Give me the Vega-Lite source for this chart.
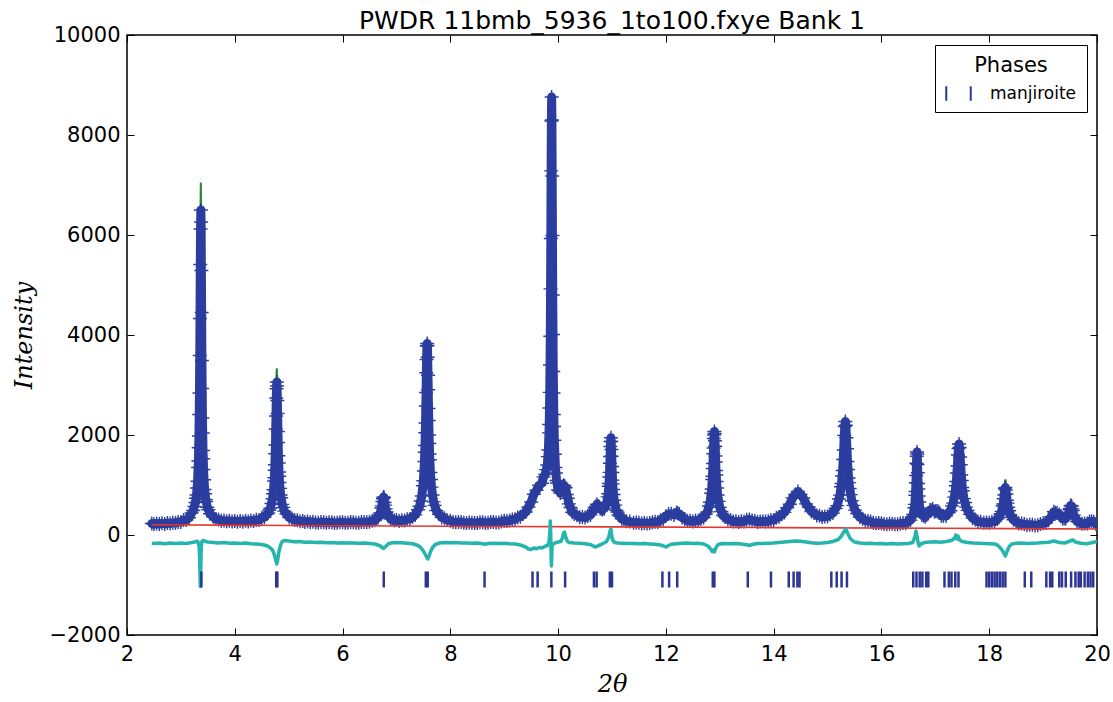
{
"$schema": "https://vega.github.io/schema/vega-lite/v6.json",
"width": 970, "height": 600,
"autosize": "none",
"padding": {"left": 127, "top": 35, "right": 16, "bottom": 67},
"background": "white",
"title": {"text": "PWDR 11bmb_5936_1to100.fxye Bank 1", "fontSize": 25, "font": "DejaVu Sans", "fontWeight": "normal", "color": "black", "anchor": "middle", "offset": 7, "dy": 17},
"config": {
 "font": "DejaVu Sans",
 "view": {"stroke": "black", "strokeWidth": 1.5},
 "axis": {"domain": false, "grid": false, "tickColor": "black", "tickWidth": 1, "labelColor": "black", "labelFont": "DejaVu Sans", "labelFontSize": 21, "titleColor": "black", "labelFlush": false, "labelOverlap": false}
},
"datasets": {
"obs": [
{"x":2.46,"o":230,"c":223},{"x":2.5,"o":215,"c":224},{"x":2.55,"o":232,"c":224},{"x":2.6,"o":218,"c":225},{"x":2.65,"o":235,"c":227},{"x":2.7,"o":222,"c":229},{"x":2.75,"o":241,"c":232},{"x":2.8,"o":228,"c":236},{"x":2.85,"o":247,"c":241},{"x":2.9,"o":240,"c":246},{"x":2.95,"o":262,"c":254},{"x":3.0,"o":262,"c":266},{"x":3.05,"o":298,"c":281},{"x":3.1,"o":300,"c":300},{"x":3.15,"o":345,"c":338},
{"x":3.2,"o":440,"c":439},{"x":3.23,"o":490,"c":507},{"x":3.25,"o":570,"c":576},{"x":3.27,"o":650,"c":677},{"x":3.28,"o":735,"c":748},{"x":3.29,"o":800,"c":840},{"x":3.3,"o":940,"c":965},{"x":3.31,"o":1075,"c":1140},{"x":3.32,"o":1350,"c":1402},{"x":3.325,"o":1480,"c":1583},{"x":3.33,"o":1745,"c":1820},{"x":3.335,"o":1980,"c":2127},{"x":3.34,"o":2410,"c":2532},{"x":3.345,"o":2840,"c":3073},{"x":3.35,"o":3590,"c":3792},{"x":3.355,"o":4330,"c":4705},{"x":3.36,"o":5410,"c":5748},{"x":3.365,"o":6120,"c":6667},{"x":3.37,"o":6500,"c":7050},{"x":3.375,"o":6260,"c":6667},{"x":3.38,"o":5290,"c":5748},{"x":3.385,"o":4450,"c":4705},{"x":3.39,"o":3490,"c":3792},{"x":3.395,"o":2930,"c":3073},{"x":3.4,"o":2340,"c":2532},{"x":3.405,"o":2040,"c":2127},{"x":3.41,"o":1690,"c":1820},{"x":3.415,"o":1525,"c":1583},{"x":3.42,"o":1310,"c":1402},{"x":3.43,"o":1105,"c":1140},{"x":3.44,"o":910,"c":965},{"x":3.45,"o":825,"c":840},{"x":3.46,"o":710,"c":748},{"x":3.47,"o":670,"c":677},{"x":3.49,"o":555,"c":576},{"x":3.51,"o":505,"c":507},{"x":3.54,"o":425,"c":439},
{"x":3.6,"o":365,"c":358},{"x":3.65,"o":318,"c":325},{"x":3.7,"o":312,"c":306},{"x":3.75,"o":285,"c":292},{"x":3.8,"o":290,"c":283},{"x":3.85,"o":275,"c":283},{"x":3.9,"o":286,"c":279},{"x":3.95,"o":268,"c":275},{"x":4.0,"o":281,"c":274},{"x":4.05,"o":265,"c":272},{"x":4.1,"o":278,"c":271},{"x":4.15,"o":266,"c":272},{"x":4.2,"o":284,"c":275},{"x":4.25,"o":272,"c":280},{"x":4.3,"o":290,"c":282},{"x":4.35,"o":280,"c":288},{"x":4.4,"o":305,"c":297},{"x":4.45,"o":300,"c":311},{"x":4.5,"o":338,"c":330},{"x":4.55,"o":355,"c":363},{"x":4.6,"o":420,"c":413},
{"x":4.62,"o":440,"c":447},{"x":4.64,"o":495,"c":495},{"x":4.66,"o":535,"c":556},{"x":4.68,"o":630,"c":638},{"x":4.7,"o":725,"c":760},{"x":4.71,"o":826,"c":847},{"x":4.72,"o":905,"c":962},{"x":4.73,"o":1080,"c":1122},{"x":4.735,"o":1145,"c":1228},{"x":4.74,"o":1295,"c":1360},{"x":4.745,"o":1405,"c":1521},{"x":4.75,"o":1625,"c":1723},{"x":4.755,"o":1800,"c":1972},{"x":4.76,"o":2120,"c":2273},{"x":4.765,"o":2380,"c":2617},{"x":4.77,"o":2740,"c":2960},{"x":4.775,"o":2925,"c":3230},{"x":4.78,"o":3060,"c":3334},{"x":4.785,"o":2980,"c":3230},{"x":4.79,"o":2690,"c":2960},{"x":4.795,"o":2430,"c":2617},{"x":4.8,"o":2070,"c":2273},{"x":4.805,"o":1850,"c":1972},{"x":4.81,"o":1585,"c":1723},{"x":4.815,"o":1440,"c":1521},{"x":4.82,"o":1260,"c":1360},{"x":4.825,"o":1175,"c":1228},{"x":4.83,"o":1050,"c":1122},{"x":4.84,"o":932,"c":962},{"x":4.85,"o":800,"c":847},{"x":4.86,"o":745,"c":760},{"x":4.88,"o":612,"c":638},{"x":4.9,"o":552,"c":556},{"x":4.92,"o":478,"c":495},{"x":4.96,"o":420,"c":413},{"x":5.01,"o":350,"c":358},{"x":5.06,"o":332,"c":325},{"x":5.11,"o":298,"c":305},{"x":5.16,"o":296,"c":291},{"x":5.21,"o":276,"c":281},{"x":5.26,"o":280,"c":274},
{"x":5.3,"o":262,"c":270},{"x":5.35,"o":272,"c":264},{"x":5.4,"o":255,"c":261},{"x":5.45,"o":266,"c":258},{"x":5.5,"o":250,"c":256},{"x":5.55,"o":247,"c":254},{"x":5.6,"o":260,"c":252},{"x":5.65,"o":255,"c":251},{"x":5.7,"o":244,"c":250},{"x":5.75,"o":257,"c":250},{"x":5.8,"o":256,"c":250},{"x":5.85,"o":242,"c":249},{"x":5.9,"o":243,"c":249},{"x":5.95,"o":256,"c":249},{"x":6.0,"o":255,"c":249},{"x":6.05,"o":244,"c":249},{"x":6.1,"o":246,"c":249},{"x":6.15,"o":258,"c":249},{"x":6.2,"o":257,"c":250},{"x":6.25,"o":245,"c":251},{"x":6.3,"o":247,"c":253},{"x":6.35,"o":259,"c":253},{"x":6.4,"o":262,"c":254},{"x":6.45,"o":256,"c":261},{"x":6.5,"o":264,"c":270},{"x":6.55,"o":287,"c":280},{"x":6.6,"o":295,"c":301},
{"x":6.63,"o":330,"c":322},{"x":6.66,"o":350,"c":358},{"x":6.68,"o":402,"c":394},{"x":6.7,"o":440,"c":448},{"x":6.72,"o":540,"c":531},{"x":6.73,"o":582,"c":590},{"x":6.74,"o":670,"c":662},{"x":6.75,"o":725,"c":735},{"x":6.76,"o":760,"c":768},{"x":6.77,"o":748,"c":735},{"x":6.78,"o":650,"c":662},{"x":6.79,"o":598,"c":590},{"x":6.8,"o":522,"c":531},{"x":6.82,"o":462,"c":455},{"x":6.84,"o":392,"c":400},{"x":6.86,"o":372,"c":366},{"x":6.89,"o":325,"c":332},{"x":6.92,"o":320,"c":313},{"x":6.96,"o":290,"c":297},{"x":7.0,"o":300,"c":293},{"x":7.05,"o":282,"c":288},{"x":7.1,"o":297,"c":290},{"x":7.15,"o":290,"c":297},{"x":7.2,"o":316,"c":309},{"x":7.25,"o":320,"c":327},{"x":7.3,"o":365,"c":358},{"x":7.35,"o":402,"c":409},{"x":7.4,"o":505,"c":498},
{"x":7.43,"o":576,"c":584},{"x":7.45,"o":680,"c":670},{"x":7.47,"o":780,"c":791},{"x":7.49,"o":985,"c":970},{"x":7.5,"o":1085,"c":1097},{"x":7.51,"o":1280,"c":1264},{"x":7.52,"o":1470,"c":1490},{"x":7.525,"o":1655,"c":1636},{"x":7.53,"o":1790,"c":1812},{"x":7.535,"o":2045,"c":2021},{"x":7.54,"o":2240,"c":2266},{"x":7.545,"o":2580,"c":2554},{"x":7.55,"o":2850,"c":2880},{"x":7.555,"o":3245,"c":3219},{"x":7.56,"o":3510,"c":3534},{"x":7.565,"o":3780,"c":3790},{"x":7.57,"o":3830,"c":3900},{"x":7.575,"o":3790,"c":3790},{"x":7.58,"o":3555,"c":3534},{"x":7.585,"o":3195,"c":3219},{"x":7.59,"o":2905,"c":2880},{"x":7.595,"o":2530,"c":2554},{"x":7.6,"o":2290,"c":2266},{"x":7.605,"o":2000,"c":2021},{"x":7.61,"o":1830,"c":1812},{"x":7.615,"o":1620,"c":1636},{"x":7.62,"o":1505,"c":1490},{"x":7.63,"o":1250,"c":1264},{"x":7.64,"o":1110,"c":1097},{"x":7.65,"o":958,"c":970},{"x":7.67,"o":800,"c":791},{"x":7.69,"o":662,"c":670},{"x":7.71,"o":592,"c":584},{"x":7.74,"o":490,"c":498},{"x":7.79,"o":415,"c":409},{"x":7.84,"o":352,"c":358},{"x":7.89,"o":334,"c":327},{"x":7.94,"o":302,"c":309},
{"x":8.0,"o":286,"c":279},{"x":8.05,"o":262,"c":268},{"x":8.1,"o":255,"c":262},{"x":8.15,"o":259,"c":256},{"x":8.2,"o":258,"c":251},{"x":8.25,"o":243,"c":247},{"x":8.3,"o":238,"c":244},{"x":8.35,"o":248,"c":243},{"x":8.4,"o":245,"c":244},{"x":8.45,"o":240,"c":246},{"x":8.5,"o":242,"c":249},{"x":8.55,"o":254,"c":248},{"x":8.6,"o":255,"c":247},{"x":8.65,"o":241,"c":248},{"x":8.7,"o":244,"c":250},{"x":8.75,"o":258,"c":251},{"x":8.8,"o":260,"c":253},{"x":8.85,"o":249,"c":255},{"x":8.9,"o":252,"c":258},{"x":8.95,"o":271,"c":263},
{"x":9.0,"o":285,"c":278},{"x":9.05,"o":281,"c":286},{"x":9.1,"o":288,"c":294},{"x":9.15,"o":312,"c":305},{"x":9.2,"o":314,"c":321},{"x":9.25,"o":352,"c":343},{"x":9.3,"o":365,"c":372},{"x":9.35,"o":420,"c":410},{"x":9.4,"o":460,"c":469},{"x":9.45,"o":560,"c":549},{"x":9.5,"o":660,"c":668},{"x":9.55,"o":814,"c":801},{"x":9.6,"o":896,"c":912},{"x":9.65,"o":995,"c":979},{"x":9.7,"o":1035,"c":1054},{"x":9.73,"o":1163,"c":1147},{"x":9.76,"o":1213,"c":1230},{"x":9.78,"o":1307,"c":1289},{"x":9.8,"o":1400,"c":1420},{"x":9.81,"o":1568,"c":1546},{"x":9.82,"o":1700,"c":1720},{"x":9.83,"o":2043,"c":2020},{"x":9.835,"o":2210,"c":2236},{"x":9.84,"o":2541,"c":2514},{"x":9.845,"o":2852,"c":2879},{"x":9.85,"o":3399,"c":3365},{"x":9.855,"o":3976,"c":4015},{"x":9.86,"o":4923,"c":4879},{"x":9.865,"o":5930,"c":5978},{"x":9.87,"o":7282,"c":7233},{"x":9.875,"o":8280,"c":8340},{"x":9.88,"o":8760,"c":8780},{"x":9.885,"o":8300,"c":8331},{"x":9.89,"o":7180,"c":7217},{"x":9.895,"o":5990,"c":5954},{"x":9.9,"o":4800,"c":4843},{"x":9.905,"o":4010,"c":3971},{"x":9.91,"o":3270,"c":3307},{"x":9.915,"o":2840,"c":2811},{"x":9.92,"o":2410,"c":2436},{"x":9.925,"o":2170,"c":2146},{"x":9.93,"o":1895,"c":1918},{"x":9.94,"o":1615,"c":1593},{"x":9.95,"o":1350,"c":1370},{"x":9.96,"o":1240,"c":1220},{"x":9.97,"o":1090,"c":1106},{"x":9.98,"o":1040,"c":1024},
{"x":10.0,"o":900,"c":918},{"x":10.02,"o":885,"c":869},{"x":10.04,"o":840,"c":856},{"x":10.06,"o":895,"c":877},{"x":10.08,"o":905,"c":922},{"x":10.1,"o":995,"c":979},{"x":10.12,"o":980,"c":999},{"x":10.14,"o":945,"c":930},{"x":10.16,"o":810,"c":823},{"x":10.18,"o":735,"c":720},{"x":10.2,"o":622,"c":636},{"x":10.23,"o":550,"c":538},{"x":10.26,"o":455,"c":467},{"x":10.3,"o":422,"c":429},{"x":10.35,"o":394,"c":387},{"x":10.4,"o":356,"c":364},{"x":10.45,"o":362,"c":355},{"x":10.5,"o":349,"c":356},{"x":10.55,"o":380,"c":372},{"x":10.6,"o":402,"c":410},{"x":10.63,"o":455,"c":447},{"x":10.66,"o":488,"c":496},{"x":10.68,"o":545,"c":536},{"x":10.7,"o":572,"c":580},{"x":10.72,"o":615,"c":607},{"x":10.74,"o":582,"c":591},{"x":10.76,"o":570,"c":561},{"x":10.78,"o":530,"c":537},{"x":10.8,"o":528,"c":521},{"x":10.82,"o":508,"c":515},{"x":10.84,"o":530,"c":520},{"x":10.86,"o":532,"c":540},{"x":10.88,"o":590,"c":576},{"x":10.9,"o":632,"c":640},
{"x":10.92,"o":762,"c":750},{"x":10.93,"o":825,"c":837},{"x":10.94,"o":975,"c":961},{"x":10.945,"o":1030,"c":1042},{"x":10.95,"o":1160,"c":1145},{"x":10.955,"o":1252,"c":1267},{"x":10.96,"o":1435,"c":1417},{"x":10.965,"o":1570,"c":1585},{"x":10.97,"o":1770,"c":1753},{"x":10.975,"o":1870,"c":1884},{"x":10.98,"o":1945,"c":1932},{"x":10.985,"o":1870,"c":1857},{"x":10.99,"o":1710,"c":1725},{"x":10.995,"o":1575,"c":1556},{"x":11.0,"o":1370,"c":1387},{"x":11.005,"o":1250,"c":1235},{"x":11.01,"o":1098,"c":1112},{"x":11.015,"o":1022,"c":1008},{"x":11.02,"o":910,"c":925},{"x":11.03,"o":810,"c":798},{"x":11.04,"o":695,"c":707},{"x":11.06,"o":598,"c":586},{"x":11.08,"o":495,"c":506},{"x":11.1,"o":460,"c":450},{"x":11.12,"o":402,"c":410},{"x":11.14,"o":380,"c":372},{"x":11.18,"o":326,"c":333},{"x":11.22,"o":310,"c":304},{"x":11.27,"o":275,"c":281},{"x":11.33,"o":268,"c":262},{"x":11.4,"o":245,"c":251},{"x":11.45,"o":249,"c":244},{"x":11.5,"o":244,"c":238},{"x":11.55,"o":230,"c":236},{"x":11.6,"o":242,"c":235},{"x":11.65,"o":232,"c":239},{"x":11.7,"o":238,"c":243},{"x":11.75,"o":256,"c":249},{"x":11.8,"o":264,"c":257},{"x":11.85,"o":262,"c":269},{"x":11.9,"o":297,"c":290},{"x":11.95,"o":315,"c":322},
{"x":12.0,"o":381,"c":373},{"x":12.05,"o":418,"c":427},{"x":12.1,"o":425,"c":415},{"x":12.15,"o":402,"c":412},{"x":12.2,"o":450,"c":440},{"x":12.22,"o":436,"c":444},{"x":12.25,"o":420,"c":413},{"x":12.3,"o":348,"c":354},{"x":12.35,"o":320,"c":313},{"x":12.4,"o":282,"c":288},{"x":12.45,"o":287,"c":280},{"x":12.5,"o":272,"c":278},{"x":12.55,"o":290,"c":283},{"x":12.6,"o":285,"c":292},{"x":12.65,"o":322,"c":314},{"x":12.7,"o":345,"c":353},{"x":12.74,"o":415,"c":406},{"x":12.77,"o":462,"c":470},{"x":12.8,"o":580,"c":569},{"x":12.82,"o":655,"c":668},{"x":12.84,"o":835,"c":821},{"x":12.85,"o":920,"c":935},{"x":12.86,"o":1110,"c":1093},{"x":12.865,"o":1175,"c":1193},{"x":12.87,"o":1330,"c":1311},{"x":12.875,"o":1430,"c":1449},{"x":12.88,"o":1625,"c":1603},{"x":12.885,"o":1740,"c":1763},{"x":12.89,"o":1930,"c":1911},{"x":12.895,"o":2000,"c":2018},{"x":12.9,"o":2070,"c":2059},{"x":12.905,"o":2030,"c":2010},{"x":12.91,"o":1885,"c":1903},{"x":12.915,"o":1775,"c":1755},{"x":12.92,"o":1580,"c":1595},{"x":12.925,"o":1460,"c":1441},{"x":12.93,"o":1290,"c":1303},{"x":12.935,"o":1200,"c":1185},{"x":12.94,"o":1070,"c":1085},{"x":12.95,"o":940,"c":927},{"x":12.96,"o":800,"c":813},{"x":12.98,"o":672,"c":660},{"x":13.0,"o":553,"c":562},{"x":13.03,"o":470,"c":462},{"x":13.06,"o":390,"c":398},
{"x":13.1,"o":362,"c":355},{"x":13.15,"o":308,"c":315},{"x":13.2,"o":299,"c":292},{"x":13.25,"o":270,"c":276},{"x":13.3,"o":274,"c":267},{"x":13.35,"o":259,"c":265},{"x":13.4,"o":273,"c":266},{"x":13.45,"o":268,"c":274},{"x":13.5,"o":303,"c":296},{"x":13.55,"o":310,"c":316},{"x":13.6,"o":290,"c":296},{"x":13.65,"o":282,"c":275},{"x":13.7,"o":262,"c":268},{"x":13.75,"o":272,"c":266},{"x":13.8,"o":276,"c":269},{"x":13.85,"o":268,"c":275},{"x":13.9,"o":275,"c":282},{"x":13.95,"o":300,"c":292},
{"x":14.0,"o":302,"c":309},{"x":14.05,"o":345,"c":338},{"x":14.1,"o":360,"c":367},{"x":14.15,"o":415,"c":407},{"x":14.2,"o":452,"c":461},{"x":14.25,"o":545,"c":534},{"x":14.3,"o":615,"c":625},{"x":14.35,"o":742,"c":730},{"x":14.4,"o":810,"c":823},{"x":14.45,"o":870,"c":860},{"x":14.5,"o":812,"c":822},{"x":14.55,"o":740,"c":731},{"x":14.6,"o":622,"c":635},{"x":14.65,"o":558,"c":547},{"x":14.7,"o":470,"c":479},{"x":14.75,"o":440,"c":431},{"x":14.8,"o":390,"c":397},{"x":14.85,"o":383,"c":376},{"x":14.9,"o":358,"c":366},{"x":14.95,"o":372,"c":365},
{"x":15.0,"o":370,"c":377},{"x":15.05,"o":410,"c":401},{"x":15.1,"o":438,"c":445},{"x":15.15,"o":530,"c":522},{"x":15.18,"o":588,"c":597},{"x":15.21,"o":720,"c":706},{"x":15.23,"o":798,"c":809},{"x":15.25,"o":965,"c":951},{"x":15.26,"o":1030,"c":1045},{"x":15.27,"o":1180,"c":1162},{"x":15.28,"o":1290,"c":1308},{"x":15.29,"o":1510,"c":1493},{"x":15.3,"o":1700,"c":1721},{"x":15.31,"o":1990,"c":1970},{"x":15.32,"o":2170,"c":2188},{"x":15.33,"o":2270,"c":2283},{"x":15.34,"o":2195,"c":2178},{"x":15.35,"o":1945,"c":1960},{"x":15.36,"o":1725,"c":1711},{"x":15.37,"o":1470,"c":1483},{"x":15.38,"o":1310,"c":1298},{"x":15.39,"o":1140,"c":1152},{"x":15.4,"o":1048,"c":1035},{"x":15.41,"o":930,"c":941},{"x":15.43,"o":808,"c":797},{"x":15.45,"o":685,"c":694},{"x":15.48,"o":592,"c":585},{"x":15.51,"o":498,"c":505},{"x":15.55,"o":428,"c":420},{"x":15.6,"o":355,"c":361},{"x":15.65,"o":327,"c":320},{"x":15.7,"o":287,"c":293},{"x":15.75,"o":280,"c":274},{"x":15.8,"o":268,"c":261},{"x":15.85,"o":244,"c":250},{"x":15.9,"o":235,"c":241},{"x":15.95,"o":242,"c":235},
{"x":16.0,"o":237,"c":230},{"x":16.05,"o":220,"c":226},{"x":16.1,"o":216,"c":222},{"x":16.15,"o":226,"c":220},{"x":16.2,"o":225,"c":219},{"x":16.25,"o":214,"c":220},{"x":16.3,"o":214,"c":221},{"x":16.35,"o":232,"c":225},{"x":16.4,"o":238,"c":230},{"x":16.45,"o":235,"c":242},{"x":16.5,"o":273,"c":266},{"x":16.54,"o":298,"c":305},{"x":16.57,"o":366,"c":358},{"x":16.59,"o":410,"c":420},{"x":16.61,"o":545,"c":531},{"x":16.62,"o":612,"c":626},{"x":16.63,"o":795,"c":778},{"x":16.635,"o":870,"c":887},{"x":16.64,"o":1045,"c":1029},{"x":16.645,"o":1190,"c":1211},{"x":16.65,"o":1435,"c":1416},{"x":16.655,"o":1575,"c":1594},{"x":16.66,"o":1660,"c":1669},{"x":16.665,"o":1620,"c":1608},{"x":16.67,"o":1410,"c":1430},{"x":16.675,"o":1245,"c":1226},{"x":16.68,"o":1030,"c":1045},{"x":16.685,"o":920,"c":904},{"x":16.69,"o":780,"c":796},{"x":16.7,"o":660,"c":646},{"x":16.71,"o":540,"c":553},{"x":16.73,"o":455,"c":446},{"x":16.75,"o":402,"c":410},{"x":16.78,"o":383,"c":375},{"x":16.81,"o":364,"c":371},{"x":16.84,"o":400,"c":393},{"x":16.87,"o":430,"c":437},{"x":16.9,"o":498,"c":490},{"x":16.92,"o":495,"c":502},{"x":16.95,"o":518,"c":509},{"x":16.98,"o":468,"c":475},
{"x":17.0,"o":474,"c":467},{"x":17.03,"o":482,"c":475},{"x":17.05,"o":470,"c":477},{"x":17.08,"o":444,"c":436},{"x":17.11,"o":384,"c":391},{"x":17.15,"o":380,"c":373},{"x":17.2,"o":382,"c":389},{"x":17.25,"o":450,"c":442},{"x":17.28,"o":485,"c":492},{"x":17.31,"o":582,"c":573},{"x":17.33,"o":638,"c":647},{"x":17.35,"o":758,"c":745},{"x":17.37,"o":870,"c":882},{"x":17.38,"o":985,"c":971},{"x":17.39,"o":1070,"c":1083},{"x":17.4,"o":1240,"c":1224},{"x":17.41,"o":1380,"c":1395},{"x":17.42,"o":1600,"c":1582},{"x":17.43,"o":1730,"c":1744},{"x":17.44,"o":1820,"c":1812},{"x":17.45,"o":1750,"c":1736},{"x":17.46,"o":1560,"c":1574},{"x":17.47,"o":1405,"c":1387},{"x":17.48,"o":1200,"c":1216},{"x":17.49,"o":1090,"c":1075},{"x":17.5,"o":950,"c":963},{"x":17.51,"o":885,"c":874},{"x":17.53,"o":728,"c":737},{"x":17.55,"o":650,"c":639},{"x":17.57,"o":558,"c":565},{"x":17.6,"o":492,"c":484},{"x":17.64,"o":413,"c":406},{"x":17.69,"o":337,"c":344},{"x":17.74,"o":310,"c":304},{"x":17.79,"o":268,"c":274},{"x":17.84,"o":264,"c":258},{"x":17.9,"o":245,"c":251},{"x":17.95,"o":251,"c":244},
{"x":18.0,"o":243,"c":249},{"x":18.05,"o":263,"c":256},{"x":18.1,"o":270,"c":276},{"x":18.15,"o":322,"c":315},{"x":18.18,"o":348,"c":364},{"x":18.21,"o":425,"c":433},{"x":18.23,"o":472,"c":503},{"x":18.25,"o":580,"c":609},{"x":18.26,"o":620,"c":685},{"x":18.27,"o":725,"c":787},{"x":18.28,"o":800,"c":916},{"x":18.29,"o":925,"c":1049},{"x":18.3,"o":950,"c":1112},{"x":18.31,"o":898,"c":1045},{"x":18.32,"o":820,"c":911},{"x":18.33,"o":695,"c":782},{"x":18.34,"o":638,"c":680},{"x":18.35,"o":555,"c":604},{"x":18.37,"o":484,"c":498},{"x":18.39,"o":405,"c":428},{"x":18.42,"o":357,"c":359},{"x":18.45,"o":304,"c":310},{"x":18.5,"o":268,"c":261},{"x":18.55,"o":230,"c":236},{"x":18.6,"o":229,"c":222},{"x":18.65,"o":219,"c":214},{"x":18.7,"o":200,"c":206},{"x":18.75,"o":207,"c":201},{"x":18.8,"o":204,"c":197},{"x":18.85,"o":192,"c":198},{"x":18.9,"o":195,"c":201},{"x":18.95,"o":218,"c":211},
{"x":19.0,"o":233,"c":226},{"x":19.05,"o":240,"c":246},{"x":19.1,"o":296,"c":289},{"x":19.15,"o":365,"c":372},{"x":19.2,"o":465,"c":457},{"x":19.23,"o":444,"c":451},{"x":19.26,"o":438,"c":431},{"x":19.3,"o":410,"c":418},{"x":19.33,"o":382,"c":375},{"x":19.36,"o":330,"c":336},{"x":19.39,"o":328,"c":322},{"x":19.42,"o":328,"c":335},{"x":19.45,"o":385,"c":377},{"x":19.47,"o":418,"c":425},{"x":19.49,"o":505,"c":495},{"x":19.5,"o":530,"c":538},{"x":19.51,"o":590,"c":578},{"x":19.52,"o":585,"c":594},{"x":19.53,"o":580,"c":574},{"x":19.54,"o":522,"c":530},{"x":19.55,"o":490,"c":482},{"x":19.57,"o":398,"c":405},{"x":19.6,"o":335,"c":327},{"x":19.63,"o":270,"c":276},{"x":19.67,"o":256,"c":250},{"x":19.72,"o":224,"c":230},{"x":19.77,"o":230,"c":222},{"x":19.82,"o":231,"c":238},{"x":19.86,"o":272,"c":264},{"x":19.9,"o":275,"c":281},{"x":19.94,"o":266,"c":259},{"x":19.98,"o":222,"c":228},{"x":20.0,"o":220,"c":216}
],
"diff": [
{"x":2.46,"d":-165},{"x":2.5,"d":-172},{"x":2.6,"d":-160},{"x":2.7,"d":-175},{"x":2.8,"d":-162},{"x":2.9,"d":-170},{"x":3.0,"d":-158},{"x":3.1,"d":-168},{"x":3.2,"d":-150},{"x":3.25,"d":-140},{"x":3.3,"d":-125},{"x":3.32,"d":-140},{"x":3.34,"d":-250},{"x":3.35,"d":-520},{"x":3.355,"d":-820},{"x":3.36,"d":-1030},{"x":3.365,"d":-900},{"x":3.37,"d":-620},{"x":3.375,"d":-380},{"x":3.38,"d":-220},{"x":3.39,"d":-130},{"x":3.41,"d":-110},{"x":3.45,"d":-125},{"x":3.5,"d":-140},{"x":3.6,"d":-150},{"x":3.7,"d":-158},{"x":3.8,"d":-150},{"x":3.9,"d":-165},{"x":4.0,"d":-158},{"x":4.1,"d":-170},{"x":4.2,"d":-162},{"x":4.3,"d":-175},{"x":4.4,"d":-180},{"x":4.5,"d":-190},{"x":4.6,"d":-215},{"x":4.65,"d":-250},{"x":4.7,"d":-300},{"x":4.73,"d":-380},{"x":4.76,"d":-500},{"x":4.78,"d":-580},{"x":4.8,"d":-470},{"x":4.82,"d":-330},{"x":4.85,"d":-200},{"x":4.88,"d":-130},{"x":4.92,"d":-110},{"x":5.0,"d":-120},{"x":5.1,"d":-135},{"x":5.2,"d":-130},{"x":5.3,"d":-145},{"x":5.4,"d":-140},{"x":5.5,"d":-150},{"x":5.6,"d":-145},{"x":5.7,"d":-155},{"x":5.8,"d":-150},{"x":5.9,"d":-160},{"x":6.0,"d":-155},{"x":6.1,"d":-162},{"x":6.2,"d":-158},{"x":6.3,"d":-165},{"x":6.4,"d":-160},{"x":6.5,"d":-170},{"x":6.6,"d":-180},{"x":6.7,"d":-220},{"x":6.76,"d":-270},{"x":6.8,"d":-230},{"x":6.85,"d":-175},{"x":6.9,"d":-160},{"x":7.0,"d":-150},{"x":7.1,"d":-155},{"x":7.2,"d":-165},{"x":7.3,"d":-175},{"x":7.4,"d":-210},{"x":7.45,"d":-250},{"x":7.5,"d":-320},{"x":7.55,"d":-420},{"x":7.58,"d":-480},{"x":7.6,"d":-440},{"x":7.63,"d":-340},{"x":7.67,"d":-250},{"x":7.72,"d":-190},{"x":7.8,"d":-160},{"x":7.9,"d":-150},{"x":8.0,"d":-155},{"x":8.1,"d":-150},{"x":8.2,"d":-160},{"x":8.3,"d":-158},{"x":8.4,"d":-165},{"x":8.5,"d":-162},{"x":8.6,"d":-175},{"x":8.65,"d":-185},{"x":8.7,"d":-170},{"x":8.8,"d":-165},{"x":8.9,"d":-170},{"x":9.0,"d":-165},{"x":9.1,"d":-175},{"x":9.2,"d":-180},{"x":9.3,"d":-200},{"x":9.4,"d":-240},{"x":9.45,"d":-280},{"x":9.5,"d":-290},{"x":9.55,"d":-260},{"x":9.6,"d":-275},{"x":9.65,"d":-250},{"x":9.7,"d":-260},{"x":9.75,"d":-230},{"x":9.8,"d":-210},{"x":9.83,"d":-150},{"x":9.85,"d":100},{"x":9.855,"d":280},{"x":9.86,"d":150},{"x":9.865,"d":-100},{"x":9.87,"d":-400},{"x":9.875,"d":-620},{"x":9.88,"d":-500},{"x":9.885,"d":-300},{"x":9.89,"d":-220},{"x":9.9,"d":-180},{"x":9.93,"d":-170},{"x":9.96,"d":-150},{"x":10.0,"d":-140},{"x":10.05,"d":-130},{"x":10.08,"d":-60},{"x":10.1,"d":40},{"x":10.12,"d":60},{"x":10.14,"d":-40},{"x":10.17,"d":-120},{"x":10.2,"d":-150},{"x":10.3,"d":-160},{"x":10.4,"d":-165},{"x":10.5,"d":-175},{"x":10.6,"d":-190},{"x":10.65,"d":-220},{"x":10.7,"d":-240},{"x":10.75,"d":-210},{"x":10.8,"d":-190},{"x":10.85,"d":-160},{"x":10.9,"d":-130},{"x":10.94,"d":-40},{"x":10.97,"d":110},{"x":10.98,"d":120},{"x":10.99,"d":20},{"x":11.01,"d":-100},{"x":11.05,"d":-150},{"x":11.1,"d":-160},{"x":11.2,"d":-165},{"x":11.3,"d":-172},{"x":11.4,"d":-168},{"x":11.5,"d":-175},{"x":11.6,"d":-170},{"x":11.7,"d":-178},{"x":11.8,"d":-185},{"x":11.9,"d":-200},{"x":11.95,"d":-215},{"x":12.0,"d":-240},{"x":12.05,"d":-210},{"x":12.1,"d":-185},{"x":12.2,"d":-175},{"x":12.3,"d":-165},{"x":12.4,"d":-160},{"x":12.5,"d":-170},{"x":12.6,"d":-165},{"x":12.7,"d":-180},{"x":12.78,"d":-220},{"x":12.83,"d":-280},{"x":12.86,"d":-330},{"x":12.88,"d":-300},{"x":12.9,"d":-340},{"x":12.93,"d":-250},{"x":12.97,"d":-190},{"x":13.05,"d":-170},{"x":13.2,"d":-175},{"x":13.3,"d":-170},{"x":13.4,"d":-180},{"x":13.5,"d":-195},{"x":13.55,"d":-210},{"x":13.6,"d":-190},{"x":13.7,"d":-170},{"x":13.8,"d":-172},{"x":13.9,"d":-165},{"x":14.0,"d":-160},{"x":14.1,"d":-150},{"x":14.2,"d":-140},{"x":14.3,"d":-130},{"x":14.4,"d":-120},{"x":14.5,"d":-125},{"x":14.6,"d":-140},{"x":14.7,"d":-155},{"x":14.8,"d":-165},{"x":14.9,"d":-160},{"x":15.0,"d":-150},{"x":15.1,"d":-130},{"x":15.2,"d":-90},{"x":15.25,"d":-30},{"x":15.3,"d":60},{"x":15.34,"d":120},{"x":15.37,"d":40},{"x":15.42,"d":-70},{"x":15.5,"d":-140},{"x":15.6,"d":-160},{"x":15.7,"d":-170},{"x":15.8,"d":-165},{"x":15.9,"d":-175},{"x":16.0,"d":-170},{"x":16.1,"d":-178},{"x":16.2,"d":-172},{"x":16.3,"d":-180},{"x":16.4,"d":-175},{"x":16.5,"d":-170},{"x":16.58,"d":-150},{"x":16.62,"d":-40},{"x":16.64,"d":80},{"x":16.66,"d":-20},{"x":16.68,"d":-150},{"x":16.7,"d":-220},{"x":16.73,"d":-180},{"x":16.8,"d":-150},{"x":16.9,"d":-140},{"x":17.0,"d":-135},{"x":17.1,"d":-145},{"x":17.2,"d":-130},{"x":17.3,"d":-110},{"x":17.36,"d":-60},{"x":17.38,"d":0},{"x":17.4,"d":-80},{"x":17.42,"d":-20},{"x":17.45,"d":-100},{"x":17.5,"d":-130},{"x":17.6,"d":-150},{"x":17.7,"d":-160},{"x":17.8,"d":-165},{"x":17.9,"d":-170},{"x":18.0,"d":-175},{"x":18.1,"d":-180},{"x":18.15,"d":-200},{"x":18.2,"d":-250},{"x":18.25,"d":-320},{"x":18.3,"d":-420},{"x":18.33,"d":-330},{"x":18.37,"d":-230},{"x":18.42,"d":-180},{"x":18.5,"d":-165},{"x":18.6,"d":-160},{"x":18.7,"d":-170},{"x":18.8,"d":-165},{"x":18.9,"d":-160},{"x":19.0,"d":-150},{"x":19.1,"d":-145},{"x":19.2,"d":-120},{"x":19.3,"d":-150},{"x":19.4,"d":-160},{"x":19.5,"d":-120},{"x":19.55,"d":-100},{"x":19.6,"d":-140},{"x":19.7,"d":-165},{"x":19.8,"d":-175},{"x":19.9,"d":-155},{"x":20.0,"d":-130}
],
"refl": [
{"x":3.38,"phase":"manjiroite"},{"x":4.77,"phase":"manjiroite"},{"x":4.79,"phase":"manjiroite"},{"x":6.765,"phase":"manjiroite"},{"x":7.545,"phase":"manjiroite"},{"x":7.58,"phase":"manjiroite"},{"x":8.635,"phase":"manjiroite"},{"x":9.525,"phase":"manjiroite"},{"x":9.62,"phase":"manjiroite"},{"x":9.875,"phase":"manjiroite"},{"x":10.13,"phase":"manjiroite"},{"x":10.665,"phase":"manjiroite"},{"x":10.715,"phase":"manjiroite"},{"x":10.96,"phase":"manjiroite"},{"x":11.0,"phase":"manjiroite"},{"x":11.935,"phase":"manjiroite"},{"x":12.06,"phase":"manjiroite"},{"x":12.21,"phase":"manjiroite"},{"x":12.87,"phase":"manjiroite"},{"x":12.9,"phase":"manjiroite"},{"x":13.52,"phase":"manjiroite"},{"x":13.95,"phase":"manjiroite"},{"x":14.28,"phase":"manjiroite"},{"x":14.37,"phase":"manjiroite"},{"x":14.44,"phase":"manjiroite"},{"x":14.48,"phase":"manjiroite"},{"x":15.07,"phase":"manjiroite"},{"x":15.17,"phase":"manjiroite"},{"x":15.26,"phase":"manjiroite"},{"x":15.36,"phase":"manjiroite"},{"x":16.59,"phase":"manjiroite"},{"x":16.65,"phase":"manjiroite"},{"x":16.71,"phase":"manjiroite"},{"x":16.76,"phase":"manjiroite"},{"x":16.83,"phase":"manjiroite"},{"x":16.87,"phase":"manjiroite"},{"x":17.17,"phase":"manjiroite"},{"x":17.25,"phase":"manjiroite"},{"x":17.3,"phase":"manjiroite"},{"x":17.37,"phase":"manjiroite"},{"x":17.43,"phase":"manjiroite"},{"x":17.95,"phase":"manjiroite"},{"x":18.0,"phase":"manjiroite"},{"x":18.05,"phase":"manjiroite"},{"x":18.1,"phase":"manjiroite"},{"x":18.15,"phase":"manjiroite"},{"x":18.2,"phase":"manjiroite"},{"x":18.25,"phase":"manjiroite"},{"x":18.3,"phase":"manjiroite"},{"x":18.66,"phase":"manjiroite"},{"x":18.78,"phase":"manjiroite"},{"x":19.06,"phase":"manjiroite"},{"x":19.13,"phase":"manjiroite"},{"x":19.17,"phase":"manjiroite"},{"x":19.3,"phase":"manjiroite"},{"x":19.35,"phase":"manjiroite"},{"x":19.42,"phase":"manjiroite"},{"x":19.52,"phase":"manjiroite"},{"x":19.6,"phase":"manjiroite"},{"x":19.66,"phase":"manjiroite"},{"x":19.7,"phase":"manjiroite"},{"x":19.77,"phase":"manjiroite"},{"x":19.83,"phase":"manjiroite"},{"x":19.88,"phase":"manjiroite"},{"x":19.93,"phase":"manjiroite"}
],
"bg": [
{"x":2.46,"b":204},{"x":5,"b":190},{"x":8,"b":176},{"x":11,"b":162},{"x":14,"b":148},{"x":17,"b":134},{"x":20,"b":120}
]
},
"layer": [
{
 "data": {"name": "obs"},
 "mark": {"type": "line", "color": "#2f8a34", "strokeWidth": 2, "clip": true},
 "encoding": {
  "x": {"field": "x", "type": "quantitative", "scale": {"domain": [2, 20], "nice": false, "zero": false},
        "axis": {"orient": "bottom", "values": [2,4,6,8,10,12,14,16,18,20], "format": "d", "tickSize": -7, "labelPadding": 15, "title": "2θ", "titleFont": "DejaVu Serif", "titleFontStyle": "italic", "titleFontWeight": "normal", "titleFontSize": 24, "titlePadding": 8}},
  "y": {"field": "c", "type": "quantitative", "scale": {"domain": [-2000, 10000], "nice": false, "zero": false},
        "axis": {"orient": "left", "values": [-2000,0,2000,4000,6000,8000,10000], "format": "d", "tickSize": -7, "labelPadding": 14, "title": "Intensity", "titleFont": "DejaVu Serif", "titleFontStyle": "italic", "titleFontWeight": "normal", "titleFontSize": 24, "titlePadding": 12}}
 }
},
{
 "data": {"name": "obs"},
 "mark": {"type": "line", "color": "#2b3d9e", "strokeWidth": 9, "strokeJoin": "round", "strokeCap": "round", "clip": true},
 "encoding": {
  "x": {"field": "x", "type": "quantitative", "scale": {"domain": [2, 20], "nice": false, "zero": false},
        "axis": {"orient": "top", "values": [2,4,6,8,10,12,14,16,18,20], "labels": false, "tickSize": -7, "title": null}},
  "y": {"field": "o", "type": "quantitative", "scale": {"domain": [-2000, 10000], "nice": false, "zero": false},
        "axis": {"orient": "right", "values": [-2000,0,2000,4000,6000,8000,10000], "labels": false, "tickSize": -7, "title": null}}
 }
},
{
 "data": {"name": "obs"},
 "mark": {"type": "point", "shape": "M-1,0H1M0,-1V1", "filled": false, "size": 196, "strokeWidth": 1.4, "color": "#2b3d9e", "opacity": 1, "clip": true},
 "encoding": {
  "x": {"field": "x", "type": "quantitative", "scale": {"domain": [2, 20], "nice": false, "zero": false}, "axis": null},
  "y": {"field": "o", "type": "quantitative", "scale": {"domain": [-2000, 10000], "nice": false, "zero": false}, "axis": null}
 }
},
{
 "data": {"name": "bg"},
 "mark": {"type": "line", "color": "#e5362b", "strokeWidth": 1.6, "clip": true},
 "encoding": {
  "x": {"field": "x", "type": "quantitative", "scale": {"domain": [2, 20], "nice": false, "zero": false}, "axis": null},
  "y": {"field": "b", "type": "quantitative", "scale": {"domain": [-2000, 10000], "nice": false, "zero": false}, "axis": null}
 }
},
{
 "mark": {"type": "rule", "color": "black", "strokeWidth": 1.5},
 "encoding": {
  "y": {"datum": 0, "type": "quantitative", "scale": {"domain": [-2000, 10000], "nice": false, "zero": false}, "axis": null}
 }
},
{
 "data": {"name": "diff"},
 "mark": {"type": "line", "color": "#25b5ac", "strokeWidth": 3.5, "strokeJoin": "round", "clip": true},
 "encoding": {
  "x": {"field": "x", "type": "quantitative", "scale": {"domain": [2, 20], "nice": false, "zero": false}, "axis": null},
  "y": {"field": "d", "type": "quantitative", "scale": {"domain": [-2000, 10000], "nice": false, "zero": false}, "axis": null}
 }
},
{
 "data": {"name": "refl"},
 "mark": {"type": "tick", "orient": "vertical", "size": 16, "thickness": 2.5, "opacity": 1},
 "encoding": {
  "x": {"field": "x", "type": "quantitative", "scale": {"domain": [2, 20], "nice": false, "zero": false}, "axis": null},
  "y": {"datum": -890, "type": "quantitative", "scale": {"domain": [-2000, 10000], "nice": false, "zero": false}, "axis": null},
  "color": {"field": "phase", "type": "nominal", "scale": {"range": ["#2d3592"]},
   "legend": {"title": "Phases", "orient": "top-right", "offset": 10, "padding": 10, "strokeColor": "black", "fillColor": "white",
    "titleAnchor": "middle", "titleFontSize": 21, "titleFont": "DejaVu Sans", "titleFontWeight": "normal", "titleColor": "black", "titlePadding": 4,
    "labelFontSize": 17, "labelFont": "DejaVu Sans", "labelColor": "black", "labelOffset": 18,
    "symbolType": "M-1,-0.55L-0.85,-0.55L-0.85,0.55L-1,0.55ZM0.85,-0.55L1,-0.55L1,0.55L0.85,0.55Z", "symbolSize": 700, "symbolStrokeWidth": 0,
    "encode": {"symbols": {"fill": {"value": "#222222"}, "stroke": {"value": "#222222"}, "strokeWidth": {"value": 0.3}}}}}
 }
},
{
 "mark": {"type": "rule", "color": "#2d3d2d", "strokeWidth": 1.3, "strokeDash": [7, 5]},
 "encoding": {
  "x": {"datum": 2.5, "type": "quantitative", "scale": {"domain": [2, 20], "nice": false, "zero": false}, "axis": null}
 }
}
],
"resolve": {"axis": {"x": "independent", "y": "independent"}}
}
